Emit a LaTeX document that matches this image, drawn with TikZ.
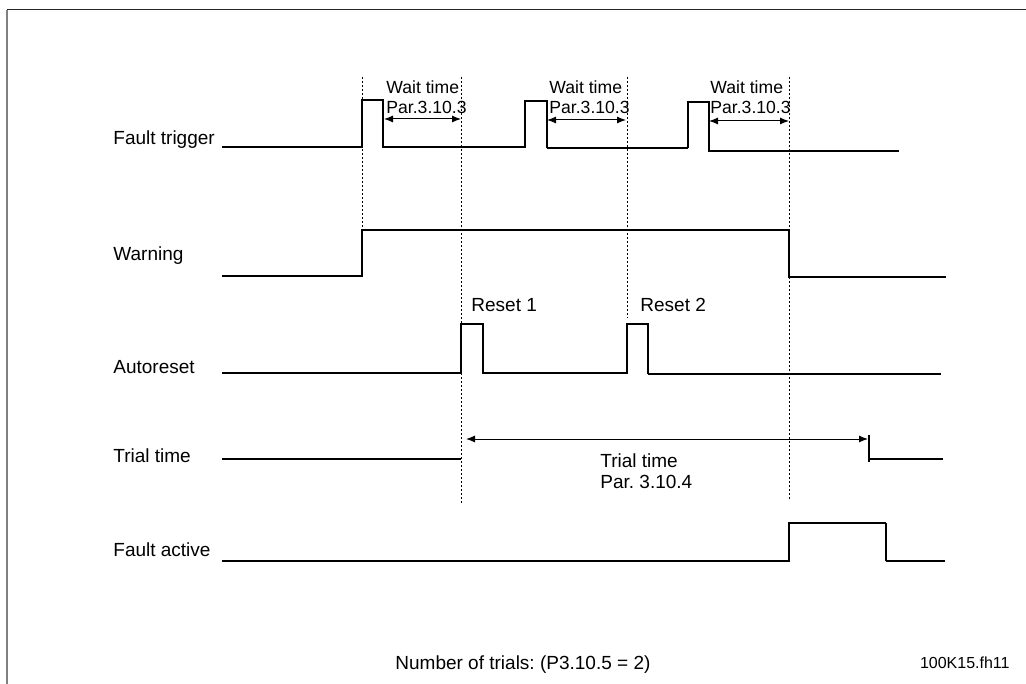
\documentclass[tikz,border=0pt]{standalone}
\usepackage{fontspec}
\setmainfont{Liberation Sans}
\usetikzlibrary{arrows.meta}
\frenchspacing

\begin{document}
\begin{tikzpicture}[
        x=0.5pt, y=-0.5pt,
        signal/.style={
            line width=0.6pt,
            draw=black,
            line join=miter
        },
        heavy/.style={
            signal,
            line width=0.9pt
        },
        guide/.style={
            line width=0.5pt,
            dash pattern=on 1pt off 1pt
        },
        dim/.style={
            {Latex[length=4.5pt,width=3.5pt]}-{Latex[length=4.5pt,width=3.5pt]},
            line width=0.5pt
        },
        lbl/.style={
            anchor=base west,
            inner sep=0pt,
            font=\fontsize{9.5}{10.5}\selectfont
        },
        wait/.style={
            anchor=north west,
            inner sep=0pt,
            align=left,
            font=\fontsize{8.8}{10}\selectfont
        }
    ]

    \useasboundingbox (0,0) rectangle (1026,684);

    % Frame
    \draw[black!85, line width=0.5pt] (7,10) -- (1026,10);
    \draw[black!50, line width=1pt] (7,10) -- (7,684);

    % Signal names
    \node[lbl] (ftrig) at (113,145) {Fault trigger};
    \node[lbl] (warn) at (113,260) {Warning};
    \node[lbl] (arst) at (113,373) {Autoreset};
    \node[lbl] (trial) at (113,462) {Trial time};
    \node[lbl] (factive) at (113,556) {Fault active};

    % Time markers
    \draw[guide] (362,77) -- (362,276);
    \draw[guide] (461,77) -- (461,503);
    \draw[guide] (627,77) -- (627,318);
    \draw[guide] (789,77) -- (789,501);

    % Fault trigger
    \draw[signal] (222,147) -- (362,147) -- (362,100) -- (383,100) -- (383,147) -- (525,147)
        -- (525,101) -- (547,101) -- (547,148);
    \draw[heavy] (547,148) -- (688,148);
    \draw[signal] (688,148) -- (688,102) -- (709,102) -- (709,151) -- (899,151);

    % Wait times
    \node[wait] (wait1) at (386,80) {Wait time\\Par.3.10.3};
    \node[wait] (wait2) at (549,80) {Wait time\\Par.3.10.3};
    \node[wait] (wait3) at (710,80) {Wait time\\Par.3.10.3};
    \draw[dim] (384,119) -- (461,119);
    \draw[dim] (547,120) -- (626,120);
    \draw[dim] (709,121) -- (789,121);

    % Warning
    \draw[signal] (222,276) -- (362,276) -- (362,230) -- (789,230) -- (789,277) -- (946,277);

    % Autoreset
    \node[lbl] (reset1) at (471,311) {Reset 1};
    \node[lbl] (reset2) at (640,311) {Reset 2};
    \draw[signal] (222,373) -- (461,373) -- (461,324) -- (483,324) -- (483,373) -- (627,373)
        -- (627,324) -- (648,324) -- (648,374);
    \draw[heavy] (648,374) -- (941,374);

    % Trial time
    \draw[signal] (222,459) -- (461,459);
    \draw[dim] (466,439) -- (868,439);
    \draw[signal] (869,435) -- (869,462);
    \draw[signal] (869,459) -- (943,459);
    \node[lbl, anchor=north west, align=left] (trialpar) at (600,453) {Trial time\\Par. 3.10.4};

    % Fault active
    \draw[signal] (222,561) -- (789,561) -- (789,523) -- (886,523);
    \draw[heavy] (886,523) -- (886,561);
    \draw[signal] (886,561) -- (945,561);

    % Footer
    \node[lbl] (trials) at (395,669) {Number of trials: (P3.10.5 = 2)};
    \node[lbl, anchor=base east, font=\fontsize{8}{9}\selectfont] (code) at (1010,668) {100K15.fh11};

\end{tikzpicture}
\end{document}
